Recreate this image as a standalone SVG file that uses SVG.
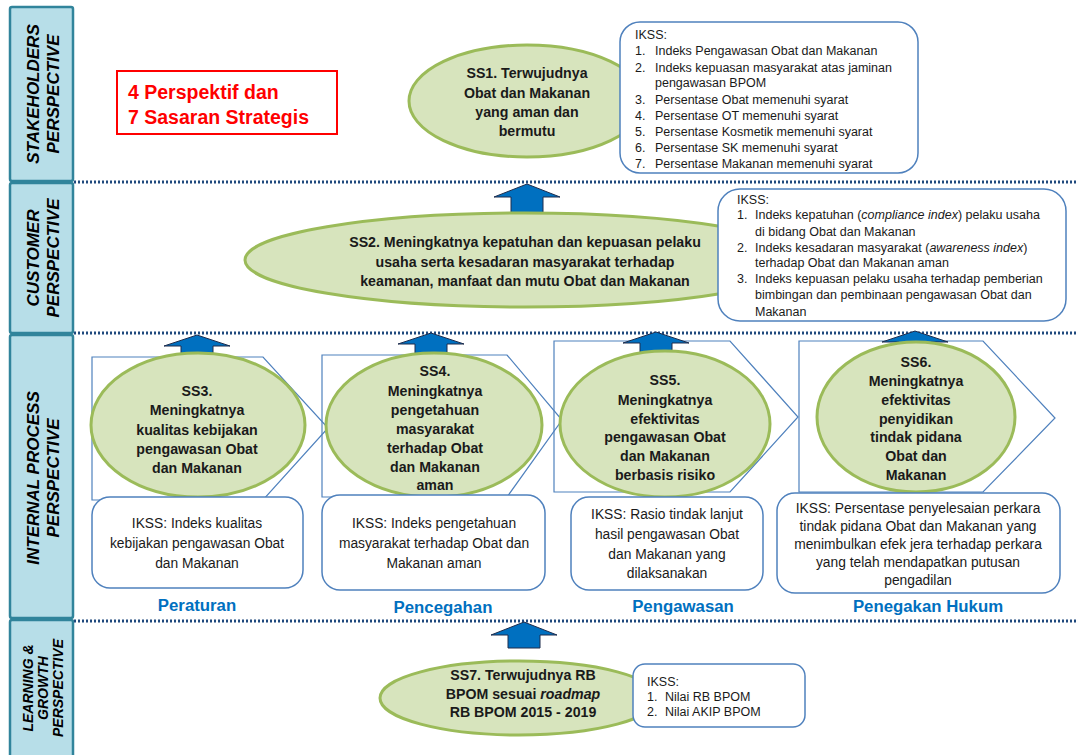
<svg xmlns="http://www.w3.org/2000/svg" width="1077" height="755" viewBox="0 0 1077 755">
<style>
text{font-family:"Liberation Sans",Arial,sans-serif;fill:#000}
.band{fill:#b7dee8;stroke:#31849b;stroke-width:2.5}
.bl{font-size:17px;font-weight:bold;font-style:italic;text-anchor:middle}
.bls{font-size:14px;font-weight:bold;font-style:italic;text-anchor:middle}
.dot{stroke:#1f497d;stroke-width:3;stroke-dasharray:2 2;fill:none}
.ell{fill:#d7e4bd;stroke:#9bbb59;stroke-width:3}
.chev{fill:none;stroke:#4f81bd;stroke-width:1.2}
.box{fill:#fff;stroke:#4f81bd;stroke-width:1.5}
.ss{font-size:14.2px;font-weight:bold;text-anchor:middle;fill:#1a1a1a}
.ik{font-size:12.5px;fill:#1a1a1a}
.ikc{font-size:13.8px;text-anchor:middle;fill:#1a1a1a}
.cat{font-size:16.8px;font-weight:bold;fill:#0070c0;text-anchor:middle}
.arr{fill:#0070c0;stroke:#1f2d4d;stroke-width:1}
</style>

<g id="perspective-bands">
<rect class="band" x="10" y="7" width="63" height="174" rx="2"/>
<rect class="band" x="10" y="183" width="63" height="150" rx="2"/>
<rect class="band" x="10" y="335" width="63" height="283" rx="2"/>
<rect class="band" x="10" y="620" width="63" height="140" rx="2"/>
<text class="bl" transform="translate(39,94) rotate(-90)">STAKEHOLDERS</text>
<text class="bl" transform="translate(59,94) rotate(-90)">PERSPECTIVE</text>
<text class="bl" transform="translate(39,258) rotate(-90)">CUSTOMER</text>
<text class="bl" transform="translate(59,258) rotate(-90)">PERSPECTIVE</text>
<text class="bl" transform="translate(39,478) rotate(-90)">INTERNAL PROCESS</text>
<text class="bl" transform="translate(59,478) rotate(-90)">PERSPECTIVE</text>
<text class="bls" transform="translate(33,688) rotate(-90)">LEARNING &amp;</text>
<text class="bls" transform="translate(48,688) rotate(-90)">GROWTH</text>
<text class="bls" transform="translate(63,688) rotate(-90)">PERSPECTIVE</text>
</g>

<g id="dividers">
<line class="dot" x1="74" y1="182" x2="1077" y2="182"/>
<line class="dot" x1="74" y1="333" x2="1077" y2="333"/>
<line class="dot" x1="74" y1="621" x2="1077" y2="621"/>
</g>

<g id="title">
<rect x="117" y="71" width="220" height="63" fill="#fff" stroke="#ff0000" stroke-width="2"/>
<text x="128" y="99" font-size="19.5" font-weight="bold" style="fill:#ff0000">4 Perspektif dan</text>
<text x="128" y="124" font-size="19.5" font-weight="bold" style="fill:#ff0000">7 Sasaran Strategis</text>
</g>

<g id="chevrons">
<polygon class="chev" points="92,357 263,357 328,428 263,500 92,500"/>
<polygon class="chev" points="322,355 507,355 562,420 507,497 322,497"/>
<polygon class="chev" points="554,341 730,341 798,417 730,492 554,492"/>
<polygon class="chev" points="799,341 983,341 1055,418 983,492 799,492"/>
</g>

<g id="connectors">
<path class="arr" d="M527,184 L560,197 L543,197 L543,213 L511,213 L511,197 L494,197 Z"/>
<path class="arr" d="M197,335 L230,346 L213,346 L213,357 L181,357 L181,346 L164,346 Z"/>
<path class="arr" d="M431,333 L464,344 L447,344 L447,354 L415,354 L415,344 L398,344 Z"/>
<path class="arr" d="M656,332 L689,343 L672,343 L672,353 L640,353 L640,343 L623,343 Z"/>
<path class="arr" d="M915,331 L948,342 L931,342 L931,352 L899,352 L899,342 L882,342 Z"/>
<path class="arr" d="M524,622 L557,635 L540,635 L540,648 L508,648 L508,635 L491,635 Z"/>
</g>

<g id="ss1">
<ellipse class="ell" cx="527" cy="101" rx="118" ry="56"/>
<text class="ss" x="527" y="78">SS1. Terwujudnya</text>
<text class="ss" x="527" y="98">Obat dan Makanan</text>
<text class="ss" x="527" y="117">yang aman dan</text>
<text class="ss" x="527" y="136">bermutu</text>
</g>
<g id="ikss1">
<rect class="box" x="620" y="22" width="298" height="151" rx="20"/>
<text class="ik" x="635" y="39">IKSS:</text>
<text class="ik" x="635" y="55">1.</text><text class="ik" x="655" y="55">Indeks Pengawasan Obat dan Makanan</text>
<text class="ik" x="635" y="72">2.</text><text class="ik" x="655" y="72">Indeks kepuasan masyarakat atas jaminan</text>
<text class="ik" x="655" y="87">pengawasan BPOM</text>
<text class="ik" x="635" y="104">3.</text><text class="ik" x="655" y="104">Persentase Obat memenuhi syarat</text>
<text class="ik" x="635" y="120">4.</text><text class="ik" x="655" y="120">Persentase OT memenuhi syarat</text>
<text class="ik" x="635" y="136">5.</text><text class="ik" x="655" y="136">Persentase Kosmetik memenuhi syarat</text>
<text class="ik" x="635" y="152">6.</text><text class="ik" x="655" y="152">Persentase SK memenuhi syarat</text>
<text class="ik" x="635" y="168">7.</text><text class="ik" x="655" y="168">Persentase Makanan  memenuhi syarat</text>
</g>

<g id="ss2">
<ellipse class="ell" cx="525" cy="260" rx="280" ry="47"/>
<text class="ss" x="525" y="247">SS2. Meningkatnya  kepatuhan  dan kepuasan  pelaku</text>
<text class="ss" x="525" y="267">usaha  serta  kesadaran  masyarakat  terhadap</text>
<text class="ss" x="525" y="286">keamanan,  manfaat  dan  mutu  Obat dan Makanan</text>
</g>
<g id="ikss2">
<rect class="box" x="718" y="189" width="348" height="132" rx="22"/>
<text class="ik" x="737" y="204">IKSS:</text>
<text class="ik" x="737" y="219">1.</text><text class="ik" x="755" y="219">Indeks kepatuhan (<tspan font-style="italic">compliance index</tspan>) pelaku usaha</text>
<text class="ik" x="755" y="236">di bidang Obat dan Makanan</text>
<text class="ik" x="737" y="252">2.</text><text class="ik" x="755" y="252">Indeks kesadaran masyarakat (<tspan font-style="italic">awareness index</tspan>)</text>
<text class="ik" x="755" y="267">terhadap Obat dan Makanan  aman</text>
<text class="ik" x="737" y="283">3.</text><text class="ik" x="755" y="283">Indeks kepuasan pelaku usaha terhadap pemberian</text>
<text class="ik" x="755" y="299">bimbingan dan pembinaan pengawasan Obat dan</text>
<text class="ik" x="755" y="316">Makanan</text>
</g>

<g id="ss3">
<ellipse class="ell" cx="198" cy="425" rx="107" ry="72"/>
<text class="ss" x="197" y="396">SS3.</text>
<text class="ss" x="197" y="415">Meningkatnya</text>
<text class="ss" x="197" y="435">kualitas  kebijakan</text>
<text class="ss" x="197" y="454">pengawasan Obat</text>
<text class="ss" x="197" y="473">dan Makanan</text>
</g>
<g id="ikss3">
<rect class="box" x="92" y="497" width="211" height="91" rx="18"/>
<text class="ikc" x="197" y="528">IKSS: Indeks kualitas</text>
<text class="ikc" x="197" y="548">kebijakan pengawasan Obat</text>
<text class="ikc" x="197" y="568">dan Makanan</text>
</g>
<text id="cat-peraturan" class="cat" x="197" y="611">Peraturan</text>

<g id="ss4">
<ellipse class="ell" cx="434" cy="425" rx="108" ry="72"/>
<text class="ss" x="435" y="376">SS4.</text>
<text class="ss" x="435" y="396">Meningkatnya</text>
<text class="ss" x="435" y="415">pengetahuan</text>
<text class="ss" x="435" y="434">masyarakat</text>
<text class="ss" x="435" y="453">terhadap Obat</text>
<text class="ss" x="435" y="472">dan Makanan</text>
<text class="ss" x="435" y="490">aman</text>
</g>
<g id="ikss4">
<rect class="box" x="322" y="495" width="223" height="95" rx="18"/>
<text class="ikc" x="434" y="528">IKSS: Indeks pengetahuan</text>
<text class="ikc" x="434" y="548">masyarakat terhadap Obat dan</text>
<text class="ikc" x="434" y="568">Makanan aman</text>
</g>
<text id="cat-pencegahan" class="cat" x="443" y="613">Pencegahan</text>

<g id="ss5">
<ellipse class="ell" cx="665" cy="424" rx="105" ry="73"/>
<text class="ss" x="665" y="385">SS5.</text>
<text class="ss" x="665" y="405">Meningkatnya</text>
<text class="ss" x="665" y="424">efektivitas</text>
<text class="ss" x="665" y="442">pengawasan Obat</text>
<text class="ss" x="665" y="461">dan Makanan</text>
<text class="ss" x="665" y="480">berbasis  risiko</text>
</g>
<g id="ikss5">
<rect class="box" x="571" y="497" width="192" height="93" rx="18"/>
<text class="ikc" x="667" y="519">IKSS: Rasio tindak lanjut</text>
<text class="ikc" x="667" y="539">hasil pengawasan Obat</text>
<text class="ikc" x="667" y="559">dan Makanan yang</text>
<text class="ikc" x="667" y="578">dilaksanakan</text>
</g>
<text id="cat-pengawasan" class="cat" x="683" y="612">Pengawasan</text>

<g id="ss6">
<ellipse class="ell" cx="916" cy="417" rx="99" ry="75"/>
<text class="ss" x="916" y="367">SS6.</text>
<text class="ss" x="916" y="386">Meningkatnya</text>
<text class="ss" x="916" y="405">efektivitas</text>
<text class="ss" x="916" y="424">penyidikan</text>
<text class="ss" x="916" y="442">tindak  pidana</text>
<text class="ss" x="916" y="461">Obat dan</text>
<text class="ss" x="916" y="480">Makanan</text>
</g>
<g id="ikss6">
<rect class="box" x="777" y="493" width="283" height="100" rx="18"/>
<text class="ikc" x="918" y="513">IKSS: Persentase penyelesaian perkara</text>
<text class="ikc" x="918" y="531">tindak pidana Obat dan Makanan yang</text>
<text class="ikc" x="918" y="549">menimbulkan  efek jera terhadap perkara</text>
<text class="ikc" x="918" y="567">yang telah mendapatkan putusan</text>
<text class="ikc" x="918" y="585">pengadilan</text>
</g>
<text id="cat-penegakan" class="cat" x="928" y="612">Penegakan Hukum</text>

<g id="ss7">
<ellipse class="ell" cx="519" cy="698" rx="139" ry="37"/>
<text class="ss" x="523" y="680">SS7. Terwujudnya RB</text>
<text class="ss" x="523" y="699">BPOM sesuai <tspan font-style="italic">roadmap</tspan></text>
<text class="ss" x="523" y="717">RB BPOM 2015 - 2019</text>
</g>
<g id="ikss7">
<rect class="box" x="633" y="664" width="172" height="63" rx="12"/>
<text class="ik" x="647" y="686" font-size="13">IKSS:</text>
<text class="ik" x="647" y="701" font-size="13">1.</text><text class="ik" x="665" y="701" font-size="13">Nilai RB BPOM</text>
<text class="ik" x="647" y="716" font-size="13">2.</text><text class="ik" x="665" y="716" font-size="13">Nilai AKIP BPOM</text>
</g>
</svg>
